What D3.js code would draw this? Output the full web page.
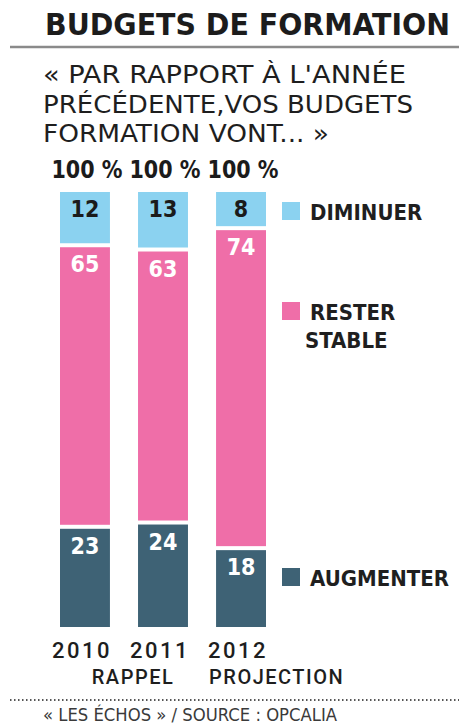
<!DOCTYPE html>
<html>
<head>
<meta charset="utf-8">
<script src="https://cdn.jsdelivr.net/npm/d3@7"></script>
<style>
  html, body { margin: 0; padding: 0; background: #fff; }
  svg { display: block; font-family: "DejaVu Sans Condensed", "DejaVu Sans", sans-serif; }
</style>
</head>
<body>
<div id="chart"></div>
<script>
// Values
const years = ["2010", "2011", "2012"];
const yearNotes = ["", "RAPPEL", "PROJECTION"];
const augmenter = [23, 24, 18];
const resterStable = [65, 63, 74];
const diminuer = [12, 13, 8];
const seriesKeys = ["augmenter", "rester", "diminuer"];
const seriesLabels = [["AUGMENTER"], ["RESTER", "STABLE"], ["DIMINUER"]];
const totals = ["100 %", "100 %", "100 %"];
const subtitleLines = ["« PAR RAPPORT À L'ANNÉE", "PRÉCÉDENTE,VOS BUDGETS", "FORMATION VONT... »"];

function draw()
{
    const width = 459, height = 724;
    const gap = 4;           // white gap between stacked segments
    const barBottom = 627;

    const color = d3.scaleOrdinal()
        .domain(seriesKeys)
        .range(["#3e6275", "#ef6ea8", "#8bd2f0"]);
    const labelColor = d3.scaleOrdinal()
        .domain(seriesKeys)
        .range(["#ffffff", "#ffffff", "#1b1b1b"]);

    const table = years.map((y, i) => ({
        year: y,
        augmenter: augmenter[i],
        rester: resterStable[i],
        diminuer: diminuer[i]
    }));
    const stacked = d3.stack().keys(seriesKeys)(table);

    const x = d3.scaleBand().domain(years).range([60, 266]).paddingInner(0.36).paddingOuter(0);
    const h = d3.scaleLinear().domain([0, 100]).range([0, 427]);

    const svg = d3.select("#chart").append("svg")
        .attr("width", width)
        .attr("height", height)
        .attr("viewBox", [0, 0, width, height]);

    // title + rule
    svg.append("text")
        .attr("x", 45).attr("y", 35)
        .attr("textLength", 405).attr("lengthAdjust", "spacingAndGlyphs")
        .style("font-weight", "bold").style("font-size", "30px")
        .attr("fill", "#1c1c1c")
        .text("BUDGETS DE FORMATION");

    svg.append("line")
        .attr("x1", 10).attr("x2", width).attr("y1", 47).attr("y2", 47)
        .attr("stroke", "#8a8a8a").attr("stroke-width", 2.5);

    const subLen = [363, 370, 286];
    svg.selectAll("text.sub")
        .data(subtitleLines)
        .join("text")
        .attr("class", "sub")
        .attr("x", 43)
        .attr("y", (d, i) => 83 + i * 29.5)
        .attr("textLength", (d, i) => subLen[i]).attr("lengthAdjust", "spacingAndGlyphs")
        .style("font-size", "25px")
        .attr("fill", "#1e1e1e")
        .text(d => d);

    // totals above the bars
    svg.selectAll("text.total")
        .data(totals)
        .join("text")
        .attr("class", "total")
        .attr("x", (d, i) => x(years[i]) + x.bandwidth() / 2 + 2)
        .attr("y", 178)
        .attr("text-anchor", "middle")
        .attr("textLength", 71).attr("lengthAdjust", "spacingAndGlyphs")
        .style("font-weight", "bold").style("font-size", "24px")
        .attr("fill", "#1b1b1b")
        .text(d => d);

    // stacked segments
    const layers = svg.selectAll("g.layer")
        .data(stacked)
        .join("g")
        .attr("class", "layer");

    const segTop = (d, li) => barBottom - h(d[1]) - li * gap;
    const segBottom = (d, li) => barBottom - h(d[0]) - li * gap;

    layers.each(function (layer, li) {
        const g = d3.select(this);
        g.selectAll("rect")
            .data(layer)
            .join("rect")
            .attr("x", d => x(d.data.year))
            .attr("width", x.bandwidth())
            .attr("y", d => segTop(d, li))
            .attr("height", d => segBottom(d, li) - segTop(d, li))
            .attr("fill", color(layer.key));

        g.selectAll("text")
            .data(layer)
            .join("text")
            .attr("x", d => x(d.data.year) + x.bandwidth() / 2)
            .attr("y", d => segTop(d, li) + 25)
            .attr("text-anchor", "middle")
            .style("font-weight", "bold").style("font-size", "23px")
            .attr("fill", labelColor(layer.key))
            .text(d => d[1] - d[0]);
    });

    // legend
    const legendY = { augmenter: 568, rester: 302, diminuer: 202 };
    const legend = svg.selectAll("g.legend")
        .data(seriesKeys)
        .join("g")
        .attr("class", "legend")
        .attr("transform", d => `translate(282, ${legendY[d]})`);

    legend.append("rect")
        .attr("width", 18).attr("height", 18)
        .attr("fill", d => color(d));

    legend.each(function (key, i) {
        d3.select(this).selectAll("text")
            .data(seriesLabels[i])
            .join("text")
            .attr("x", (d, j) => j === 0 ? 28 : 23)
            .attr("y", (d, j) => 18 + j * 28)
            .style("font-weight", "bold").style("font-size", "22px")
            .attr("fill", "#1f1f1f")
            .text(d => d);
    });

    // category axis labels
    svg.selectAll("text.year")
        .data(years)
        .join("text")
        .attr("class", "year")
        .attr("x", d => x(d) + x.bandwidth() / 2 - 3)
        .attr("y", 658)
        .attr("text-anchor", "middle")
        .style("font-family", "Roboto, sans-serif")
        .style("font-weight", "500")
        .style("font-size", "22px")
        .style("letter-spacing", "2.5px")
        .attr("fill", "#1e1e1e")
        .text(d => d);

    svg.selectAll("text.note")
        .data(yearNotes)
        .join("text")
        .attr("class", "note")
        .attr("x", (d, i) => i === 2 ? x(years[i]) - 7 : x(years[i]) - 5)
        .attr("y", 684)
        .attr("text-anchor", (d, i) => i === 2 ? "start" : "middle")
        .style("font-family", "Roboto, sans-serif")
        .style("font-weight", "500")
        .style("font-size", "20px")
        .style("letter-spacing", "1.5px")
        .attr("fill", "#1e1e1e")
        .text(d => d);

    // footer
    svg.append("line")
        .attr("x1", 10).attr("x2", width).attr("y1", 700).attr("y2", 700)
        .attr("stroke", "#555").attr("stroke-width", 2)
        .attr("stroke-dasharray", "1.5,2.5");

    svg.append("text")
        .attr("x", 43).attr("y", 721)
        .attr("textLength", 294).attr("lengthAdjust", "spacingAndGlyphs")
        .style("font-size", "18px")
        .attr("fill", "#3a3a3a")
        .text("« LES ÉCHOS » / SOURCE : OPCALIA");
}

draw();
</script>
</body>
</html>
